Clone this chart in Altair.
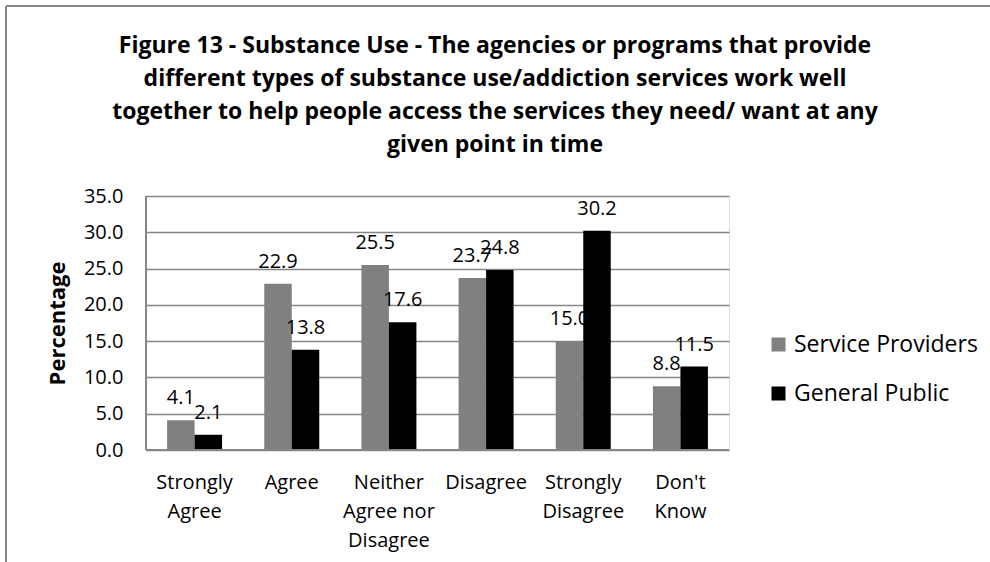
import json
import altair as alt
import pandas as pd

# ---- data ----
categories = ["Strongly Agree", "Agree", "Neither Agree nor Disagree",
              "Disagree", "Strongly Disagree", "Don't Know"]
label_lines = [["Strongly", "Agree"], ["Agree"], ["Neither", "Agree nor", "Disagree"],
               ["Disagree"], ["Strongly", "Disagree"], ["Don't", "Know"]]
series = ["Service Providers", "General Public"]
service_providers = [4.1, 22.9, 25.5, 23.7, 15.0, 8.8]
general_public = [2.1, 13.8, 17.6, 24.8, 30.2, 11.5]
y_ticks = [0, 5, 10, 15, 20, 25, 30, 35]
colors = ["#808080", "#000000"]
title_lines = [
    "Figure 13 - Substance Use - The agencies or programs that provide",
    "different types of substance use/addiction services work well",
    "together to help people access the services they need/ want at any",
    "given point in time",
]

rows = []
for c, a, b in zip(categories, service_providers, general_public):
    rows.append({"category": c, "series": series[0], "value": a})
    rows.append({"category": c, "series": series[1], "value": b})
df = pd.DataFrame(rows)

# label expression for multi-line category labels
expr = "datum.value"
for c, lines in reversed(list(zip(categories, label_lines))):
    expr = f"datum.value == {json.dumps(c)} ? {json.dumps(lines)} : ({expr})"

FONT = "Open Sans"
W, H = 583, 254
L, T = 146, 196

x = alt.X("category:N", sort=categories, title=None,
          scale=alt.Scale(paddingInner=0.434, paddingOuter=0.217),
          axis=alt.Axis(labelExpr=expr, labelAngle=0, ticks=False, domain=False,
                        labelPadding=22, labelLineHeight=29, labelFontSize=20,
                        labelColor="#000000", labelFont=FONT))
y = alt.Y("value:Q", title="Percentage",
          scale=alt.Scale(domain=[0, 35], nice=False),
          axis=alt.Axis(values=y_ticks, format=".1f", ticks=False, domain=False,
                        gridColor="#868686", gridWidth=1.5, labelFontSize=20,
                        labelColor="#000000", labelFont=FONT, labelPadding=23,
                        titleFont=FONT, titleFontSize=22, titleFontWeight="bold",
                        titleColor="#000000", titlePadding=14))
xo = alt.XOffset("series:N", sort=series)
color = alt.Color("series:N", sort=series,
                  scale=alt.Scale(domain=series, range=colors),
                  legend=alt.Legend(title=None, orient="none", legendX=621, legendY=137,
                                    symbolType="square", symbolSize=196,
                                    symbolStrokeWidth=0, labelFontSize=23,
                                    labelFont=FONT, labelColor="#000000",
                                    labelLimit=400,
                                    rowPadding=25, labelOffset=4))

base = alt.Chart(df)
bars = base.mark_bar().encode(x=x, y=y, xOffset=xo, color=color)
labels = base.mark_text(baseline="bottom", dy=-12, fontSize=20, font=FONT,
                        color="#000000").encode(
    x=x, y=y, xOffset=xo, text=alt.Text("value:Q", format=".1f"))
bottom_axis = base.mark_rule(color="#868686", strokeWidth=1.5).encode(
    x=alt.value(0), x2=alt.value(W), y=alt.value(H))
left_axis = base.mark_rule(color="#868686", strokeWidth=1.5).encode(
    x=alt.value(0), y=alt.value(0), y2=alt.value(H))
border_top = base.mark_rule(color="#868686", strokeWidth=2).encode(
    x=alt.value(6 - L), x2=alt.value(1000 - L), y=alt.value(6 - T))
border_left = base.mark_rule(color="#868686", strokeWidth=2).encode(
    x=alt.value(6 - L), y=alt.value(6 - T), y2=alt.value(570 - T))

chart = alt.layer(left_axis, bars, labels, bottom_axis, border_top, border_left).properties(
    width=W, height=H,
    title=alt.TitleParams(title_lines, font=FONT, fontSize=23, fontWeight="bold",
                          color="#000000", anchor="middle", lineHeight=33,
                          dx=495 - (L + W / 2), offset=-152),
    autosize=alt.AutoSizeParams(type="none"),
    padding={"left": L, "top": T, "right": 990 - L - W, "bottom": 562 - T - H},
).configure_view(stroke=None).configure(background="white")

chart.save("out.html", embed_options={"renderer": "svg", "actions": False})
